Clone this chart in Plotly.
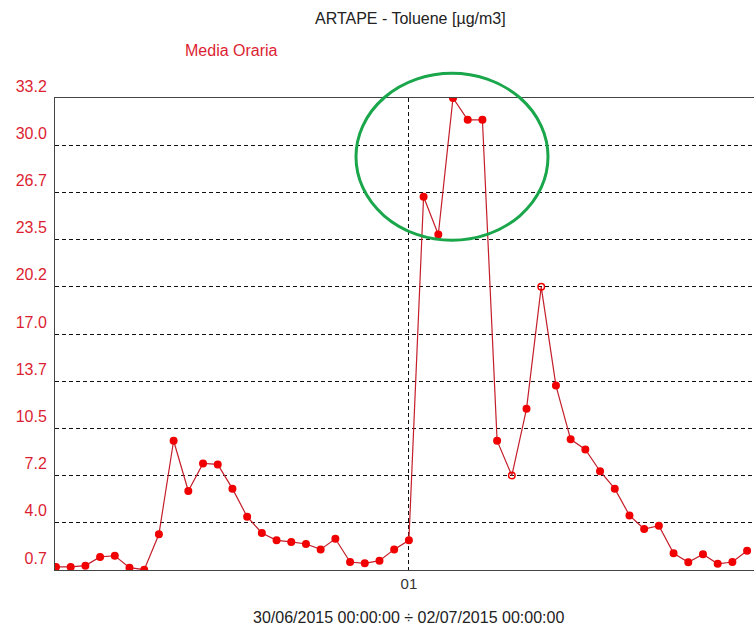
import pandas as pd
import plotly.graph_objects as go

title_text = "ARTAPE - Toluene [µg/m3]"
series_name = "Media Oraria"
period_text = "30/06/2015 00:00:00 ÷ 02/07/2015 00:00:00"

start = pd.Timestamp("2015-06-30 00:00:00")
times = pd.date_range(start, periods=48, freq="h")
values = [0.91, 0.91, 1.0, 1.6, 1.68, 0.86, 0.72, 3.16, 9.6, 6.14, 8.04, 7.97,
          6.3, 4.37, 3.25, 2.74, 2.63, 2.49, 2.12, 2.85, 1.25, 1.16, 1.34, 2.12,
          2.74, 26.4, 23.8, 33.2, 31.7, 31.7, 9.6, 7.2, 11.8, 20.2, 13.4, 9.7,
          9.0, 7.5, 6.3, 4.46, 3.52, 3.75, 1.85, 1.23, 1.78, 1.13, 1.25, 2.03]

y_ticks = [0.7, 3.95, 7.2, 10.45, 13.7, 16.95, 20.2, 23.45, 26.7, 29.95, 33.2]
y_labels = ["0.7", "4.0", "7.2", "10.5", "13.7", "17.0", "20.2", "23.5", "26.7", "30.0", "33.2"]
x_ticks = [pd.Timestamp("2015-07-01 00:00:00")]
x_labels = ["01"]

FONT = "Liberation Sans, Arial, sans-serif"
RED_TXT = "#dc1e32"

symbols = ["circle-open" if v in (7.2, 20.2) else "circle" for v in values]

fig = go.Figure()
fig.add_trace(go.Scatter(
    x=times, y=values, mode="lines+markers",
    line=dict(color="#c41e2a", width=1.2),
    marker=dict(color="#f00000", size=6.5, symbol=symbols,
                line=dict(color="#f00000", width=1.5)),
    showlegend=False,
))

x0 = start - pd.Timedelta(minutes=4)
x1 = start + pd.Timedelta(hours=47.47)

fig.update_layout(
    width=754, height=630,
    margin=dict(l=55, r=0, t=98, b=60),
    paper_bgcolor="white", plot_bgcolor="white",
    font=dict(family=FONT, size=16, color="#222"),
    xaxis=dict(range=[x0, x1], tickvals=x_ticks, ticktext=x_labels,
               showgrid=True, gridcolor="#111", griddash="4px,3px", gridwidth=1,
               showline=True, linecolor="#444", linewidth=1, mirror=True,
               ticks="", ticklabelstandoff=0, zeroline=False,
               tickfont=dict(family=FONT, size=15, color="#333")),
    yaxis=dict(range=[0.7, 33.2], tickvals=y_ticks, ticktext=y_labels,
               showgrid=True, gridcolor="#111", griddash="4px,3px", gridwidth=1,
               showline=True, linecolor="#444", linewidth=1, mirror=False,
               ticks="", ticklabelstandoff=4, ticklabelshift=-12, zeroline=False,
               tickfont=dict(family=FONT, size=16, color=RED_TXT)),
    annotations=[
        dict(text=title_text, xref="paper", yref="paper", x=0.508, y=1.169,
             xanchor="center", yanchor="middle", showarrow=False,
             font=dict(family=FONT, size=16, color="#222")),
        dict(text=series_name, xref="paper", yref="paper", x=0.253, y=1.101,
             xanchor="center", yanchor="middle", showarrow=False,
             font=dict(family=FONT, size=16, color=RED_TXT)),
        dict(text=period_text, xref="paper", yref="paper", x=0.506, y=-0.1016,
             xanchor="center", yanchor="middle", showarrow=False,
             font=dict(family=FONT, size=16, color="#222")),
    ],
    shapes=[
        dict(type="circle", xref="paper", yref="paper",
             x0=0.4306, x1=0.7053, y0=0.6987, y1=1.0523,
             line=dict(color="#1aa64a", width=3), fillcolor="rgba(0,0,0,0)"),
    ],
)

fig.write_html("out.html")
